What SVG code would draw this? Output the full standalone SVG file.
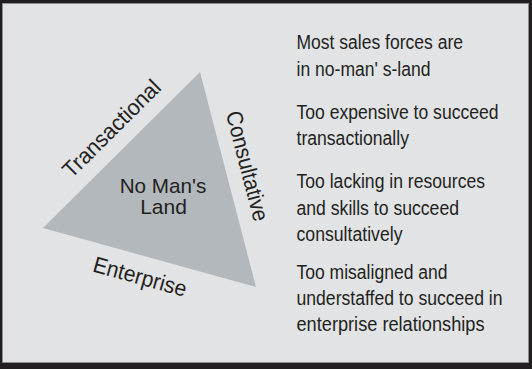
<svg xmlns="http://www.w3.org/2000/svg" width="532" height="369" viewBox="0 0 532 369">
  <style>
    .txt { font-family: "Liberation Sans", Arial, sans-serif; fill: #231f20; }
    .body { font-size: 19.5px; }
    .big { font-size: 22.5px; }
    .center { font-size: 21px; }
  </style>
  <!-- frame -->
  <rect x="0" y="0" width="532" height="369" fill="#231f20"/>
  <rect x="2.5" y="3.5" width="526" height="359" fill="#e2e3e5" stroke="#8c8d90" stroke-width="1"/>

  <!-- triangle -->
  <g id="triangle">
    <polygon points="200,72 43,228 256,287" fill="#b3b8bd"/>
    <text class="txt center" x="163" y="192.5" text-anchor="middle" textLength="86.7" lengthAdjust="spacingAndGlyphs">No Man's</text>
    <text class="txt center" x="163.5" y="213.8" text-anchor="middle" textLength="46.7" lengthAdjust="spacingAndGlyphs">Land</text>
  </g>

  <g id="label-transactional" transform="translate(117,134) rotate(-44.8)">
    <text class="txt big" x="0" y="0" text-anchor="middle" textLength="128" lengthAdjust="spacingAndGlyphs">Transactional</text>
  </g>
  <g id="label-consultative" transform="translate(240,168) rotate(75.4)">
    <text class="txt big" x="0" y="0" text-anchor="middle" textLength="113" lengthAdjust="spacingAndGlyphs">Consultative</text>
  </g>
  <g id="label-enterprise" transform="translate(138,284) rotate(15.5)">
    <text class="txt big" x="0" y="0" text-anchor="middle" textLength="96" lengthAdjust="spacingAndGlyphs">Enterprise</text>
  </g>

  <!-- notes on the right -->
  <g id="notes" class="txt body">
    <text x="296.5" y="49.3" textLength="166.5" lengthAdjust="spacingAndGlyphs">Most sales forces are</text>
    <text x="296.5" y="75.7" textLength="134" lengthAdjust="spacingAndGlyphs">in no-man' s-land</text>
    <text x="296.5" y="119.3" textLength="202" lengthAdjust="spacingAndGlyphs">Too expensive to succeed</text>
    <text x="296.5" y="145" textLength="112.5" lengthAdjust="spacingAndGlyphs">transactionally</text>
    <text x="296.5" y="188.3" textLength="188.5" lengthAdjust="spacingAndGlyphs">Too lacking in resources</text>
    <text x="296.5" y="215" textLength="162.5" lengthAdjust="spacingAndGlyphs">and skills to succeed</text>
    <text x="296.5" y="240.7" textLength="106" lengthAdjust="spacingAndGlyphs">consultatively</text>
    <text x="296.5" y="279.3" textLength="151" lengthAdjust="spacingAndGlyphs">Too misaligned and</text>
    <text x="296.5" y="305" textLength="206" lengthAdjust="spacingAndGlyphs">understaffed to succeed in</text>
    <text x="296.5" y="330.5" textLength="188" lengthAdjust="spacingAndGlyphs">enterprise relationships</text>
  </g>
</svg>
